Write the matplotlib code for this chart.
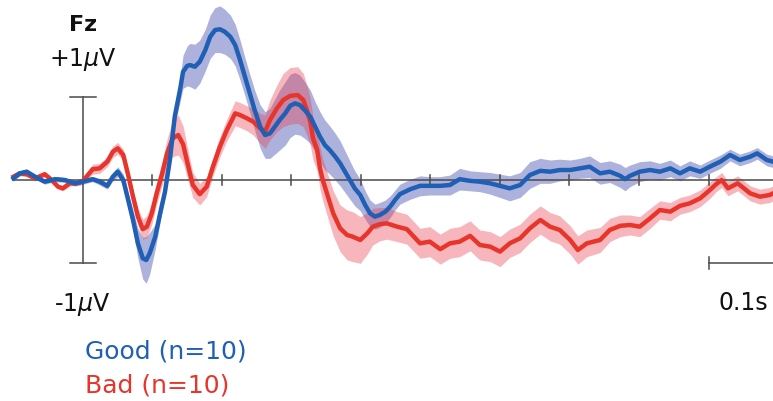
import numpy as np
import matplotlib
matplotlib.use("Agg")
import matplotlib.pyplot as plt

# ERP at Fz, times in ms, amplitudes in microvolts (mean and shaded error)
good_t = [-100, -91, -81, -69, -55, -40, -26, -12, 0, 14, 24, 35, 43, 50, 58, 65, 72, 79, 86, 91,
          96, 104, 111, 118, 125, 132, 140, 144, 150, 154, 161, 168, 176, 183, 190, 197, 204, 212, 219, 226,
          233, 240, 247, 255, 262, 269, 276, 283, 291, 298, 305, 312, 319, 327, 334, 341, 348, 355, 363, 370,
          377, 384, 391, 399, 406, 413, 420, 427, 435, 442, 449, 456, 471, 485, 499, 514, 528, 542, 557, 571,
          586, 600, 614, 629, 643, 658, 672, 686, 701, 715, 729, 744, 758, 773, 780, 787, 801, 816, 830, 845,
          859, 873, 888, 902, 917, 931, 945, 960, 970, 984, 993]
good = [0.02, 0.08, 0.10, 0.04, -0.02, 0.01, 0.00, -0.04, -0.02, 0.01, -0.02, -0.07, 0.04, 0.10, 0.00, -0.24, -0.48, -0.76, -0.94, -0.96,
        -0.88, -0.68, -0.40, -0.14, 0.24, 0.76, 1.10, 1.30, 1.37, 1.38, 1.36, 1.42, 1.56, 1.72, 1.80, 1.81, 1.78, 1.72, 1.62, 1.44,
        1.24, 1.04, 0.84, 0.64, 0.54, 0.56, 0.64, 0.72, 0.80, 0.89, 0.92, 0.90, 0.84, 0.76, 0.64, 0.52, 0.42, 0.36, 0.28, 0.20,
        0.10, 0.00, -0.10, -0.18, -0.30, -0.40, -0.44, -0.42, -0.38, -0.32, -0.24, -0.17, -0.11, -0.07, -0.07, -0.07, -0.06, 0.01, -0.01, -0.02,
        -0.04, -0.07, -0.10, -0.06, 0.06, 0.11, 0.10, 0.12, 0.12, 0.14, 0.16, 0.08, 0.10, 0.05, 0.01, 0.05, 0.10, 0.12, 0.10, 0.14,
        0.08, 0.14, 0.10, 0.16, 0.22, 0.30, 0.24, 0.28, 0.32, 0.24, 0.22]
good_err = [0.03, 0.03, 0.03, 0.03, 0.03, 0.03, 0.03, 0.03, 0.03, 0.03, 0.04, 0.04, 0.05, 0.06, 0.07, 0.09, 0.12, 0.18, 0.25, 0.28,
            0.25, 0.15, 0.10, 0.08, 0.08, 0.10, 0.15, 0.20, 0.24, 0.26, 0.27, 0.26, 0.25, 0.26, 0.27, 0.28, 0.27, 0.26, 0.25, 0.24,
            0.23, 0.23, 0.24, 0.26, 0.28, 0.30, 0.33, 0.36, 0.38, 0.38, 0.37, 0.36, 0.34, 0.32, 0.30, 0.30, 0.30, 0.29, 0.28, 0.27,
            0.25, 0.23, 0.21, 0.19, 0.17, 0.16, 0.15, 0.15, 0.14, 0.13, 0.12, 0.12, 0.12, 0.12, 0.11, 0.11, 0.12, 0.13, 0.12, 0.12,
            0.13, 0.14, 0.15, 0.15, 0.16, 0.15, 0.14, 0.13, 0.12, 0.12, 0.13, 0.13, 0.13, 0.14, 0.14, 0.13, 0.12, 0.11, 0.10, 0.10,
            0.09, 0.09, 0.08, 0.08, 0.08, 0.07, 0.07, 0.07, 0.07, 0.07, 0.07]

bad_t = [-100, -91, -81, -69, -55, -45, -36, -29, -19, -9, 0, 7, 14, 24, 35, 43, 50, 58, 65, 72,
         79, 86, 92, 99, 106, 114, 121, 129, 137, 144, 151, 158, 168, 178, 187, 197, 207, 219, 226, 236,
         245, 255, 262, 269, 279, 288, 298, 309, 317, 322, 327, 331, 337, 341, 345, 351, 360, 370, 380, 388,
         399, 409, 417, 427, 437, 452, 466, 485, 499, 514, 528, 542, 557, 571, 586, 600, 614, 629, 643, 658,
         672, 686, 701, 712, 725, 744, 758, 773, 787, 801, 816, 830, 845, 859, 873, 888, 902, 911, 919, 928,
         942, 960, 974, 988, 993]
bad = [0.04, 0.08, 0.07, 0.02, 0.07, 0.00, -0.08, -0.10, -0.04, -0.04, -0.01, 0.06, 0.13, 0.14, 0.22, 0.34, 0.38, 0.30, 0.06, -0.20,
       -0.44, -0.59, -0.56, -0.40, -0.16, 0.08, 0.32, 0.50, 0.54, 0.43, 0.18, -0.06, -0.17, -0.08, 0.16, 0.40, 0.60, 0.80, 0.78, 0.74,
       0.70, 0.62, 0.58, 0.72, 0.86, 0.96, 1.01, 1.02, 0.96, 0.84, 0.70, 0.50, 0.36, 0.14, 0.00, -0.16, -0.40, -0.58, -0.66, -0.68,
       -0.72, -0.64, -0.56, -0.53, -0.52, -0.56, -0.59, -0.76, -0.74, -0.83, -0.76, -0.74, -0.67, -0.78, -0.80, -0.86, -0.76, -0.70, -0.58, -0.48,
       -0.56, -0.60, -0.72, -0.84, -0.76, -0.72, -0.60, -0.55, -0.54, -0.56, -0.46, -0.36, -0.38, -0.31, -0.28, -0.22, -0.12, -0.05, 0.00, -0.10,
       -0.04, -0.16, -0.20, -0.18, -0.16]
bad_err = [0.03, 0.03, 0.03, 0.03, 0.03, 0.03, 0.03, 0.03, 0.03, 0.03, 0.04, 0.05, 0.06, 0.06, 0.06, 0.07, 0.07, 0.07, 0.07, 0.08,
           0.10, 0.12, 0.13, 0.13, 0.13, 0.14, 0.17, 0.22, 0.24, 0.22, 0.18, 0.15, 0.13, 0.12, 0.11, 0.12, 0.13, 0.15, 0.15, 0.15,
           0.16, 0.18, 0.20, 0.24, 0.28, 0.32, 0.34, 0.34, 0.32, 0.30, 0.28, 0.26, 0.25, 0.25, 0.25, 0.26, 0.27, 0.28, 0.30, 0.30,
           0.28, 0.25, 0.22, 0.20, 0.19, 0.18, 0.18, 0.18, 0.18, 0.18, 0.18, 0.18, 0.18, 0.18, 0.18, 0.18, 0.17, 0.17, 0.17, 0.17,
           0.17, 0.17, 0.17, 0.17, 0.16, 0.15, 0.14, 0.13, 0.12, 0.12, 0.12, 0.11, 0.11, 0.10, 0.10, 0.10, 0.10, 0.09, 0.09, 0.09,
           0.09, 0.09, 0.09, 0.09, 0.09]

time_ticks = [100, 200, 300, 400, 500, 600, 700, 800, 900]

blue = "#1f5fb4"
red = "#e8352b"
axcol = "#4a4a4a"

fig = plt.figure(figsize=(7.73, 4.01), dpi=100)
ax = fig.add_axes([0, 0, 1, 1])
ax.set_xlim(-119.4, 992.8)
ax.set_ylim(-2.653, 2.161)
ax.axis("off")

gt, g, ge = np.array(good_t), np.array(good), np.array(good_err)
bt, b, be = np.array(bad_t), np.array(bad), np.array(bad_err)

# shaded error bands
ax.fill_between(gt, g - ge, g + ge, color="#4a55b5", alpha=0.45, lw=0, zorder=1)
ax.fill_between(bt, b - be, b + be, color="#e8404f", alpha=0.38, lw=0, zorder=2)

# zero line with ticks every 100 ms
ax.plot([-100, 1000], [0, 0], color=axcol, lw=1.1, zorder=3)
for tk in time_ticks:
    ax.plot([tk, tk], [-0.06, 0.06], color=axcol, lw=1.1, zorder=3)

# amplitude scale bar at stimulus onset
ax.plot([0, 0], [-1, 1], color=axcol, lw=1.1, zorder=3)
ax.plot([-19, 19], [1, 1], color=axcol, lw=1.1, zorder=3)
ax.plot([-19, 19], [-1, -1], color=axcol, lw=1.1, zorder=3)

# time scale bar
ax.plot([900, 1000], [-1, -1], color=axcol, lw=1.1, zorder=3)
ax.plot([900, 900], [-1.07, -0.93], color=axcol, lw=1.1, zorder=3)

ax.plot(bt, b, color=red, lw=3.2, zorder=4, solid_joinstyle="round")
ax.plot(gt, g, color=blue, lw=3.2, zorder=5, solid_joinstyle="round")

ax.text(0, 1.86, "Fz", ha="center", va="center", fontsize=16, fontweight="bold", color="#111111")
ax.text(0, 1.37, r"+1$\mu$V", ha="center", va="baseline", fontsize=17, color="#111111")
ax.text(-1, -1.57, r"-1$\mu$V", ha="center", va="baseline", fontsize=17, color="#111111")
ax.text(950, -1.56, "0.1s", ha="center", va="baseline", fontsize=17, color="#111111")
ax.text(3, -2.14, "Good (n=10)", ha="left", va="baseline", fontsize=18, color=blue)
ax.text(3, -2.545, "Bad (n=10)", ha="left", va="baseline", fontsize=18, color=red)

fig.savefig("out.png", dpi=100)
